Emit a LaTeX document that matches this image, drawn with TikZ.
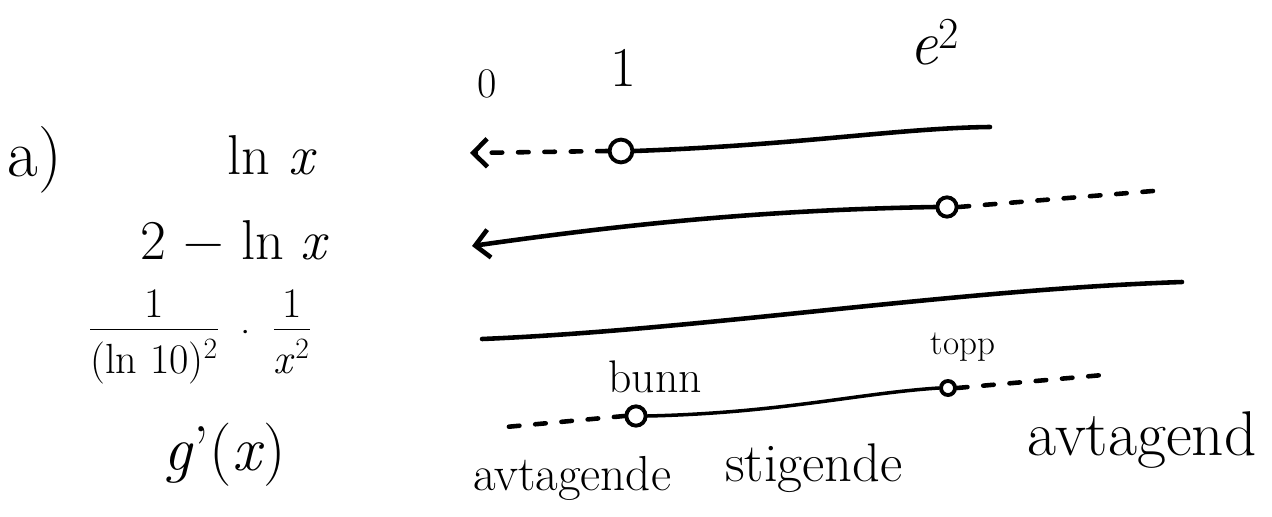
\documentclass[tikz,border=0pt]{standalone}
\usepackage{fontspec}
\usetikzlibrary{arrows.meta}
\newcommand{\myfr}[2]{\begin{tabular}{@{}c@{}}#1\\[-2pt]\hline\rule{0pt}{1.05em}#2\end{tabular}}
\newcommand{\vx}{\textit{x}}
\begin{document}
\begin{tikzpicture}[x=0.02cm,y=-0.02cm,
  ink/.style={line width=2.6pt,line cap=round},
  thinink/.style={line width=2pt,line cap=round},
  dashink/.style={line width=2.6pt,line cap=round,dash pattern=on 6pt off 9pt},
  opendot/.style={circle,draw,line width=2.2pt,inner sep=0pt,minimum size=#1},
  big/.style={font=\fontsize{32}{36}\selectfont,inner sep=0pt},
  mid/.style={font=\fontsize{24}{28}\selectfont,inner sep=0pt},
  small/.style={font=\fontsize{20}{24}\selectfont,inner sep=0pt},
  arr/.style={-{Straight Barb[length=8pt,width=16pt,line width=2.6pt]}}]
\useasboundingbox (0,0) rectangle (1272,517);
% left column
\node[big,font=\fontsize{38}{42}\selectfont] (a) at (35,160) {a)};
\node[big] (f1) at (272,155) {ln\,\,\vx};
\node[big] (f2) at (235,240) {2 − ln \vx};
\node[mid] (f3) at (200,336) {\myfr{1}{(ln 10)\textsuperscript{2}} · \myfr{1}{\vx\textsuperscript{2}}};
\node[big,font=\fontsize{36}{40}\selectfont] (g) at (225,455) {\textit{g}'(\vx)};
% top values
\node[mid] (v0) at (487,84) {0};
\node[big] (v1) at (623,68) {1};
\node[big,font=\fontsize{36}{40}\selectfont] (ve) at (935,42) {\textit{e}\textsuperscript{2}};
% row 1
\node[opendot=13pt] (c1) at (621,151) {};
\coordinate (r1l) at (470,153);
\coordinate (r1r) at (990,127);
\draw[dashink,arr] (c1.west) -- (r1l);
\draw[ink] (c1.east) .. controls (800,145) and (900,128) .. (r1r);
% row 2
\node[opendot=11pt] (c2) at (947,207) {};
\coordinate (r2l) at (472,246);
\coordinate (r2r) at (1153,191);
\draw[ink,arr] (c2.west) .. controls (760,210) and (620,225) .. (r2l);
\draw[dashink] (c2.east) -- (r2r);
% row 3
\coordinate (r3l) at (482,339);
\coordinate (r3r) at (1182,282);
\draw[ink] (r3l) .. controls (700,330) and (950,290) .. (r3r);
% row 4
\node[opendot=11pt] (c3) at (636,416) {};
\node[opendot=8pt] (c4) at (948,388) {};
\coordinate (r4l) at (495,428);
\coordinate (r4r) at (1103,375);
\draw[dashink] (c3.west) -- (r4l);
\draw[thinink] (c3.east) .. controls (780,413) and (860,393) .. (c4.west);
\draw[dashink] (c4.east) -- (r4r);
\node[small,font=\fontsize{26}{30}\selectfont] (bunn) at (655,377) {bunn};
\node[small] (topp) at (963,347) {topp};
% bottom labels
\node[mid,font=\fontsize{28}{32}\selectfont] (l1) at (572,478) {avtagende};
\node[mid,font=\fontsize{31}{35}\selectfont] (l2) at (814,468) {stigende};
\node[mid,font=\fontsize{36}{40}\selectfont] (l3) at (1142,440) {avtagend};
\end{tikzpicture}
\end{document}
